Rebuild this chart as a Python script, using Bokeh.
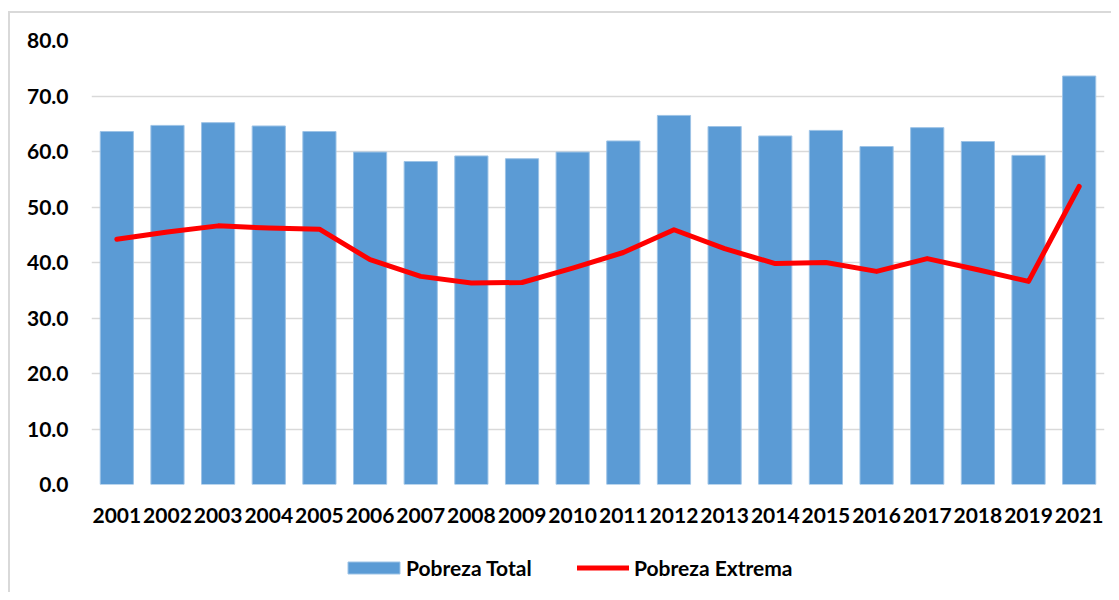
from bokeh.plotting import figure
from bokeh.layouts import column
from bokeh.models import (ColumnDataSource, Range1d, FixedTicker, NumeralTickFormatter,
                          Legend, LegendItem)
from bokeh.embed import file_html
from bokeh.resources import INLINE

years = ["2001", "2002", "2003", "2004", "2005", "2006", "2007", "2008", "2009", "2010",
         "2011", "2012", "2013", "2014", "2015", "2016", "2017", "2018", "2019", "2021"]
pobreza_total = [63.6, 64.7, 65.2, 64.6, 63.6, 59.9, 58.2, 59.2, 58.7, 59.9,
                 61.9, 66.5, 64.5, 62.8, 63.8, 60.9, 64.3, 61.8, 59.3, 73.6]
pobreza_extrema = [44.2, 45.5, 46.6, 46.2, 46.0, 40.5, 37.5, 36.3, 36.4, 39.0,
                   41.8, 45.9, 42.5, 39.8, 40.0, 38.4, 40.7, 38.7, 36.6, 53.7]
y_ticks = [0, 10, 20, 30, 40, 50, 60, 70, 80]

FONT = "Lato"
BAR_FILL = "#5B9BD5"
BAR_EDGE = "#9DC3E6"
LINE_COLOR = "#FF0000"
src = ColumnDataSource(dict(year=years, total=pobreza_total, extrema=pobreza_extrema))

p = figure(x_range=years, y_range=Range1d(0, 80), width=1101, height=525,
           output_backend="svg", toolbar_location=None,
           min_border_left=81, min_border_right=7, min_border_top=27, min_border_bottom=54)

p.vbar(x="year", top="total", width=0.655, source=src,
       fill_color=BAR_FILL, line_color=BAR_EDGE, line_width=1)
p.line(x="year", y="extrema", source=src, line_color=LINE_COLOR,
       line_width=5, line_join="round", line_cap="round")

p.outline_line_color = None
p.xgrid.grid_line_color = None
p.ygrid.grid_line_color = "#D9D9D9"
p.ygrid.grid_line_width = 1.5

p.yaxis.ticker = FixedTicker(ticks=y_ticks)
p.yaxis.formatter = NumeralTickFormatter(format="0.0")
for ax in (p.xaxis[0], p.yaxis[0]):
    ax.axis_line_color = None
    ax.major_tick_line_color = None
    ax.minor_tick_line_color = None
    ax.major_tick_out = 0
    ax.major_tick_in = 0
    ax.major_label_text_font = FONT
    ax.major_label_text_font_style = "bold"
    ax.major_label_text_font_size = "21px"
    ax.major_label_text_color = "#000000"
p.yaxis.major_label_standoff = 23
p.xaxis.major_label_standoff = 23

# legend strip below the chart
lg = figure(width=1101, height=54, output_backend="svg", toolbar_location=None,
            x_range=Range1d(0, 1), y_range=Range1d(0, 1),
            x_axis_location=None, y_axis_location=None,
            min_border_left=0, min_border_right=0, min_border_top=0, min_border_bottom=0)
lg.grid.visible = False
lg.outline_line_color = None
nodata = ColumnDataSource(dict(x=[float("nan")], y=[float("nan")]))
r_bar = lg.vbar(x="x", top="y", width=0.5, source=nodata,
                fill_color=BAR_FILL, line_color=BAR_EDGE, line_width=1)
r_line = lg.line(x="x", y="y", source=nodata, line_color=LINE_COLOR,
                 line_width=5, line_cap="round")

def add_legend(label, renderer, x, gw, gh, standoff):
    leg = Legend(items=[LegendItem(label=label, renderers=[renderer])],
                 location=(x, 12), orientation="horizontal",
                 padding=0, margin=0, border_line_color=None, background_fill_alpha=0,
                 glyph_width=gw, glyph_height=gh, label_standoff=standoff,
                 label_text_font=FONT, label_text_font_style="bold",
                 label_text_font_size="21px", label_text_color="#000000")
    lg.add_layout(leg, "center")

add_legend("Pobreza Total", r_bar, 250, 65, 15, 0)
add_legend("Pobreza Extrema", r_line, 486, 52, 13, 5)

layout = column(p, lg, spacing=0, margin=(11, 0, 0, 8),
                styles={"border-left": "2px solid #D9D9D9", "border-top": "2px solid #D9D9D9"})
open("out.html", "w").write(file_html(layout, INLINE))
